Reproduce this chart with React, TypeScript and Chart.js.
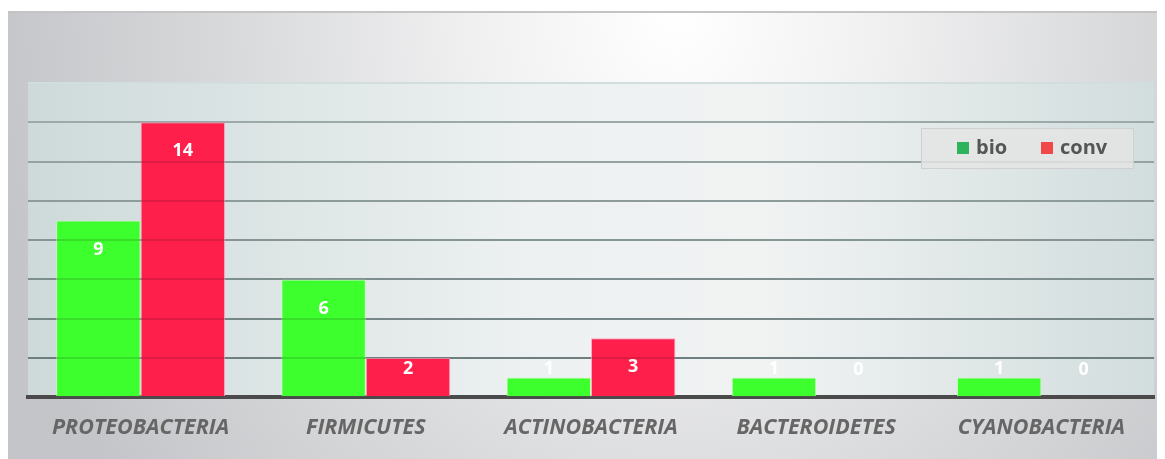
import React, { useEffect, useRef } from "react";
import { Chart, registerables } from "chart.js";

Chart.register(...registerables);

const categories = ["PROTEOBACTERIA", "FIRMICUTES", "ACTINOBACTERIA", "BACTEROIDETES", "CYANOBACTERIA"];
const bioValues = [9, 6, 1, 1, 1];
const convValues = [14, 2, 3, 0, 0];
const seriesLabels = ["bio", "conv"];
const barColors = ["#3eff2e", "#ff1f4b"];
const barBorders = ["rgba(190,255,180,0.9)", "rgba(255,160,190,0.9)"];
const legendColors = ["#2db35c", "#f04848"];
const yMin = 0;
const yMax = 16;
const yStep = 2;

function gridColor(v: number) {
  if (v >= yMax) return "#d2dddd";
  if (v <= yMin) return "rgba(0,0,0,0)";
  const t = (v - yStep) / (yMax - 2 * yStep);
  const c0 = [0x80, 0x92, 0x92];
  const c1 = [0xb3, 0xc2, 0xc2];
  const c = c0.map((x, i) => Math.round(x + (c1[i] - x) * t));
  return `rgb(${c[0]},${c[1]},${c[2]})`;
}

const plotBgPlugin = {
  id: "plotBg",
  beforeDraw(chart: any) {
    const { ctx, chartArea: a } = chart;
    ctx.save();
    const g = ctx.createLinearGradient(a.left, 0, a.right, 0);
    g.addColorStop(0, "#cedada");
    g.addColorStop(0.45, "#edf1f1");
    g.addColorStop(0.65, "#f1f3f3");
    g.addColorStop(1, "#d2dddd");
    ctx.fillStyle = g;
    ctx.fillRect(a.left, a.top, a.right - a.left, a.bottom - a.top);
    ctx.restore();
  },
  afterDatasetsDraw(chart: any) {
    const { ctx, chartArea: a, scales } = chart;
    const y = scales.y;
    ctx.save();
    ctx.globalCompositeOperation = "multiply";
    ctx.strokeStyle = "rgba(0,0,0,0.13)";
    ctx.lineWidth = 2;
    y.ticks.forEach((t: any) => {
      if (t.value <= yMin || t.value >= yMax) return;
      const py = Math.round(y.getPixelForValue(t.value));
      ctx.beginPath();
      ctx.moveTo(a.left, py);
      ctx.lineTo(a.right, py);
      ctx.stroke();
    });
    ctx.restore();
  },
};

const valueLabelPlugin = {
  id: "valueLabels",
  afterDatasetsDraw(chart: any) {
    const { ctx } = chart;
    ctx.save();
    ctx.font = "bold 18px 'Open Sans'";
    ctx.fillStyle = "#ffffff";
    ctx.textAlign = "center";
    ctx.textBaseline = "middle";
    chart.data.datasets.forEach((ds: any, di: number) => {
      const meta = chart.getDatasetMeta(di);
      meta.data.forEach((bar: any, i: number) => {
        const v = ds.data[i];
        const yPos = Math.min(bar.y + 29, bar.base - 27);
        ctx.fillText(String(v), bar.x, yPos);
      });
    });
    ctx.restore();
  },
};

const legendPlugin = {
  id: "customLegend",
  afterDraw(chart: any) {
    const { ctx, chartArea: a } = chart;
    const w = 213;
    const h = 41;
    const x0 = a.right - 20 - w;
    const y0 = a.top + 45;
    ctx.save();
    ctx.fillStyle = "rgba(228,228,228,0.85)";
    ctx.fillRect(x0, y0, w, h);
    ctx.strokeStyle = "rgba(200,200,200,0.7)";
    ctx.lineWidth = 1;
    ctx.strokeRect(x0 + 0.5, y0 + 0.5, w - 1, h - 1);
    ctx.font = "bold 20px 'Open Sans'";
    ctx.textBaseline = "middle";
    ctx.textAlign = "left";
    const offsets = [36, 120];
    seriesLabels.forEach((lab, i) => {
      const sx = x0 + offsets[i];
      const cy = y0 + 20;
      ctx.fillStyle = legendColors[i];
      ctx.fillRect(sx, cy - 6, 12, 12);
      ctx.fillStyle = "#555555";
      ctx.fillText(lab, sx + 19, cy);
    });
    ctx.restore();
  },
};

export default function App() {
  const ref = useRef<HTMLCanvasElement>(null);
  useEffect(() => {
    document.documentElement.style.overflow = "hidden";
    const chart = new Chart(ref.current!, {
      type: "bar",
      data: {
        labels: categories,
        datasets: [
          {
            label: seriesLabels[0],
            data: bioValues,
            backgroundColor: barColors[0],
            borderColor: barBorders[0],
            borderWidth: 1,
            categoryPercentage: 0.75,
            barPercentage: 1.0,
          },
          {
            label: seriesLabels[1],
            data: convValues,
            backgroundColor: barColors[1],
            borderColor: barBorders[1],
            borderWidth: 1,
            categoryPercentage: 0.75,
            barPercentage: 1.0,
          },
        ],
      },
      options: {
        animation: false,
        responsive: false,
        maintainAspectRatio: false,
        layout: { padding: { left: 20, right: 9, top: 70, bottom: 8 } },
        plugins: {
          legend: { display: false },
          tooltip: { enabled: false },
        },
        scales: {
          x: {
            grid: { display: false },
            border: { display: true, color: "#4a4a4a", width: 4 },
            ticks: {
              color: "#666666",
              padding: 10,
              font: { family: "'Open Sans'", size: 21.5, style: "italic", weight: "700" },
            },
          },
          y: {
            min: yMin,
            max: yMax,
            border: { display: false },
            ticks: { display: false, stepSize: yStep },
            grid: {
              drawTicks: false,
              lineWidth: 2,
              color: (c: any) => gridColor(c.tick ? c.tick.value : 0),
            },
          },
        },
      },
      plugins: [plotBgPlugin, valueLabelPlugin, legendPlugin],
    });
    return () => chart.destroy();
  }, []);

  return (
    <div
      style={{
        marginTop: 3,
        width: 1155,
        height: 448,
        borderTop: "2px solid #c4c4c4",
        boxSizing: "border-box",
        background:
          "radial-gradient(ellipse 60% 180% at 58% 0%, #ffffff 0%, #f0f0f1 30%, #d8d9db 65%, #c4c5c8 100%)",
      }}
    >
      <canvas ref={ref} width={1155} height={446} style={{ display: "block", width: 1155, height: 446 }} />
    </div>
  );
}
